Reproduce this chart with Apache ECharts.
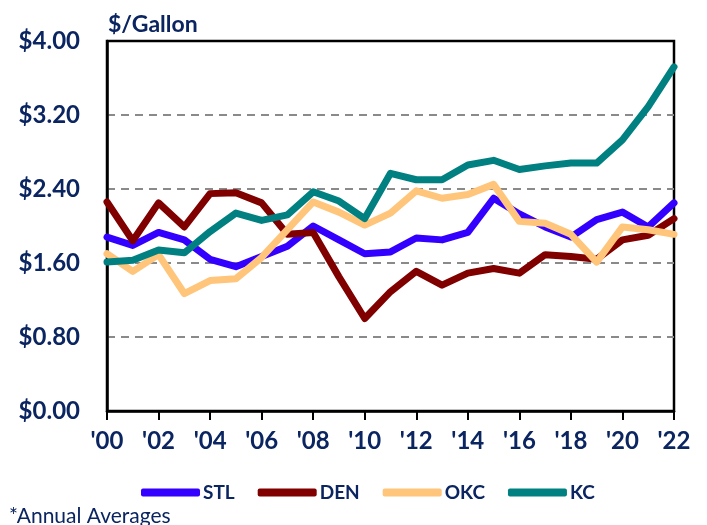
<!DOCTYPE html>
<html>
<head>
<meta charset="utf-8">
<script src="https://cdn.jsdelivr.net/npm/echarts@6/dist/echarts.min.js"></script>
<style>
  html, body { margin: 0; padding: 0; background: #fff; }
  #chart { width: 707px; height: 525px; }
</style>
</head>
<body>
<div id="chart"></div>
<script>
// annual averages, $/gallon, 2000 - 2022
const years = ["'00", "'01", "'02", "'03", "'04", "'05", "'06", "'07", "'08", "'09", "'10", "'11",
  "'12", "'13", "'14", "'15", "'16", "'17", "'18", "'19", "'20", "'21", "'22"];

const stl = [1.88, 1.79, 1.93, 1.85, 1.64, 1.56, 1.67, 1.78, 2.00, 1.85, 1.70, 1.72,
  1.87, 1.85, 1.93, 2.30, 2.13, 1.99, 1.88, 2.07, 2.15, 1.99, 2.25];
const den = [2.26, 1.84, 2.25, 1.99, 2.35, 2.36, 2.25, 1.91, 1.93, 1.45, 1.00, 1.29,
  1.51, 1.36, 1.49, 1.54, 1.49, 1.69, 1.67, 1.64, 1.85, 1.90, 2.08];
const okc = [1.70, 1.51, 1.69, 1.27, 1.41, 1.43, 1.66, 1.96, 2.26, 2.15, 2.01, 2.14,
  2.38, 2.30, 2.34, 2.45, 2.05, 2.03, 1.91, 1.61, 1.99, 1.96, 1.91];
const kc = [1.61, 1.63, 1.74, 1.71, 1.94, 2.14, 2.06, 2.12, 2.37, 2.27, 2.08, 2.57,
  2.50, 2.50, 2.66, 2.71, 2.61, 2.65, 2.68, 2.68, 2.93, 3.29, 3.72];

const navy = '#0B2561';
const font = 'Lato';

function lineSeries(name, data, color) {
  return {
    name: name,
    type: 'line',
    data: data,
    symbol: 'none',
    lineStyle: { width: 7, color: color, cap: 'round', join: 'round' },
    itemStyle: { color: color }
  };
}

const chart = echarts.init(document.getElementById('chart'), null, { renderer: 'canvas' });

const option = {
  backgroundColor: '#fff',
  animation: false,
  title: [{
    text: '$/Gallon',
    left: 103,
    top: 8,
    textStyle: { fontFamily: font, fontSize: 23, fontWeight: 'bold', color: navy }
  }, {
    text: '*Annual Averages',
    left: 4,
    top: 501,
    textStyle: { fontFamily: font, fontSize: 21, fontWeight: 'normal', color: navy }
  }],
  legend: {
    left: 136,
    top: 478,
    itemWidth: 59,
    itemHeight: 8,
    itemGap: 23,
    icon: 'roundRect',
    textStyle: { fontFamily: font, fontSize: 19, fontWeight: 'bold', color: navy, padding: [0, 0, 0, -2] },
    data: ['STL', 'DEN', 'OKC', 'KC']
  },
  grid: {
    left: 107,
    right: 33,
    top: 41,
    bottom: 114,
    show: true,
    borderColor: '#000',
    borderWidth: 2.5,
    containLabel: false
  },
  xAxis: {
    type: 'category',
    data: years,
    boundaryGap: false,
    axisLine: { lineStyle: { color: '#000', width: 2.5 } },
    axisTick: { show: true, interval: 1, length: 9, lineStyle: { color: '#000', width: 2 } },
    axisLabel: {
      interval: 1,
      margin: 18,
      fontFamily: font,
      fontSize: 24,
      fontWeight: 'bold',
      color: navy
    },
    splitLine: { show: false }
  },
  yAxis: {
    type: 'value',
    min: 0,
    max: 4,
    interval: 0.8,
    axisLine: { show: true, lineStyle: { color: '#000', width: 2.5 } },
    axisTick: { show: false },
    axisLabel: {
      margin: 27,
      fontFamily: font,
      fontSize: 24,
      fontWeight: 'bold',
      color: navy,
      formatter: v => '$' + v.toFixed(2)
    },
    splitLine: {
      show: true,
      showMinLine: false,
      showMaxLine: false,
      lineStyle: { color: '#8a8a8a', width: 2, type: [8, 6] }
    }
  },
  series: [
    lineSeries('STL', stl, '#3300FF'),
    lineSeries('DEN', den, '#800000'),
    lineSeries('OKC', okc, '#FFC57A'),
    lineSeries('KC', kc, '#008080')
  ]
};

chart.setOption(option);
</script>
</body>
</html>
